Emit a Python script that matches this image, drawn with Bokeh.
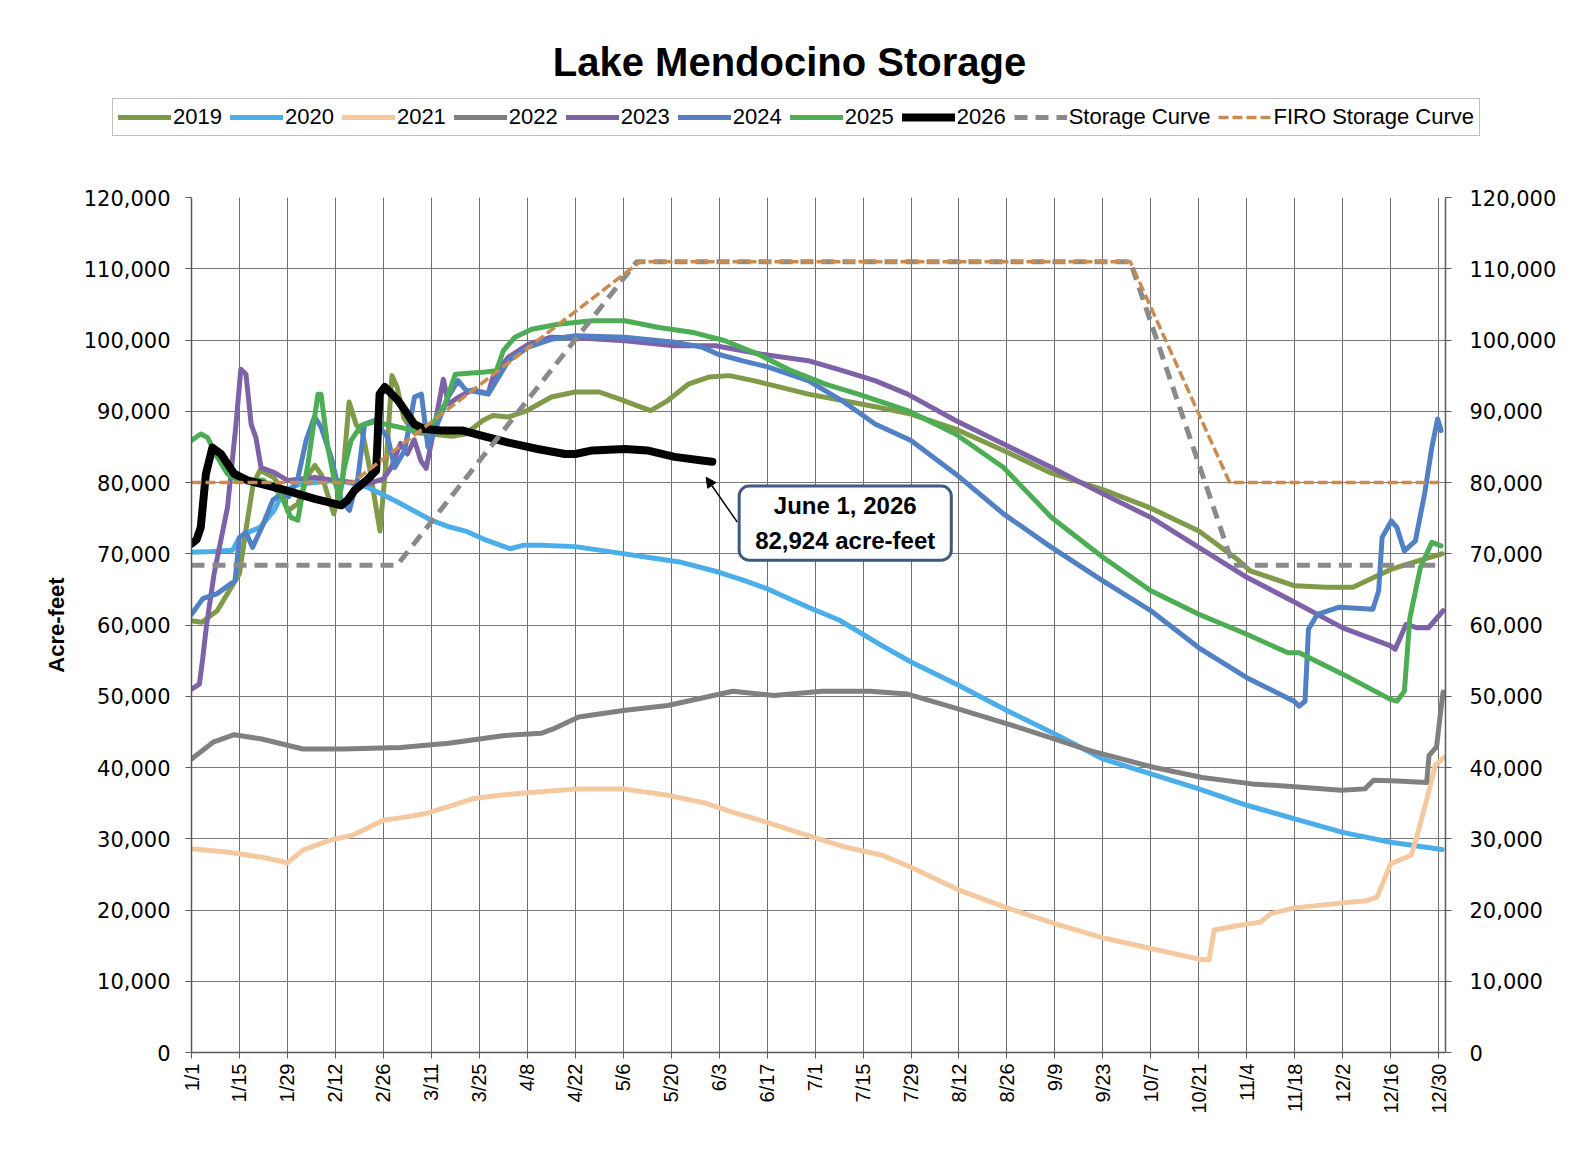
import math
from bokeh.plotting import figure
from bokeh.models import (Legend, LegendItem, Label, Arrow, NormalHead, LinearAxis,
                          FixedTicker, NumeralTickFormatter, Range1d)
from bokeh.core.properties import value
from bokeh.embed import file_html
from bokeh.resources import INLINE

# ---------------- data (x = day of year, 1/1 = 0, leap-year calendar) ----------------
TICK_LABELS = ["1/1", "1/15", "1/29", "2/12", "2/26", "3/11", "3/25", "4/8", "4/22", "5/6",
               "5/20", "6/3", "6/17", "7/1", "7/15", "7/29", "8/12", "8/26", "9/9", "9/23",
               "10/7", "10/21", "11/4", "11/18", "12/2", "12/16", "12/30"]
TICK_DAYS = list(range(0, 365, 14))
Y_TICKS = list(range(0, 120001, 10000))

D2019 = [0, 3, 7.5, 12.5, 14, 16, 18, 20, 24, 26, 28, 31, 34, 36, 38, 41.5, 44, 46, 48, 50, 52, 55, 57, 58.5, 60,
         62, 65, 70, 76, 80, 85, 88, 92.5, 98, 105, 112, 119, 125, 130, 134, 139, 145, 151, 157, 164, 170, 180,
         190, 200, 210, 223, 237, 251, 266, 280, 294, 305, 309, 322, 331, 339, 343, 350, 358, 365]
V2019 = [60600, 60400, 62000, 66000, 67200, 73700, 79800, 81700, 80700, 79300, 76000, 77000, 81000, 82400, 81000,
         75600, 80000, 91300, 88200, 86800, 82000, 73200, 84000, 95000, 93400, 89000, 87000, 86800, 86500, 86800,
         88700, 89400, 89200, 90100, 92000, 92700, 92700, 91700, 90800, 90100, 91500, 93800, 94800, 95000, 94300,
         93600, 92400, 91500, 90600, 89600, 87500, 84500, 81300, 79000, 76400, 73200, 69300, 67600, 65500, 65300,
         65300, 66200, 67800, 69000, 70000]

D2020 = [0, 6, 12, 14, 16.5, 20, 24, 26, 29, 32, 36, 42, 46, 51, 55, 60, 65, 70, 75, 80.5, 86, 93, 97, 102, 112,
         122, 133, 143, 154, 161, 168, 180, 189, 201.5, 210, 224, 238, 252, 266, 280, 294, 308, 322, 336, 350, 365]
V2020 = [70200, 70300, 70500, 72300, 73000, 73700, 76000, 77900, 79300, 79800, 80000, 80300, 80000, 79400, 78500,
         77300, 76000, 74700, 73800, 73100, 71900, 70700, 71200, 71200, 71000, 70300, 69500, 68800, 67400, 66300,
         65100, 62500, 60700, 57100, 54800, 51500, 48000, 44700, 41200, 39100, 37000, 34700, 32800, 30900, 29500,
         28500]

D2021 = [0, 11, 20.5, 26.5, 28, 32.5, 40.5, 47, 56, 62, 68, 75, 82, 90, 99, 113, 126, 139, 150, 158, 168, 177, 191,
         201.5, 210, 224, 238, 252, 266, 280, 294, 297, 298.5, 305, 312, 315, 322, 336, 343, 346, 350, 356, 357.6,
         360.7, 363, 365.5]
V2021 = [28600, 28100, 27400, 26800, 26600, 28400, 29800, 30500, 32600, 33000, 33500, 34500, 35600, 36100, 36500,
         37000, 37000, 36100, 35000, 33700, 32300, 30900, 28800, 27700, 26000, 22800, 20300, 18100, 16100, 14600,
         13100, 13000, 17200, 17800, 18300, 19500, 20300, 21000, 21300, 21800, 26500, 27700, 30200, 35800, 40300,
         41400]

D2022 = [0, 6.5, 12.5, 20.5, 32.5, 44.5, 61, 75, 91.5, 102, 106, 113, 126, 139, 158, 170, 184, 198, 209, 224, 243,
         262, 281, 295, 309.5, 322, 335.5, 342.5, 345, 352, 360.5, 361.2, 363.4, 364.4, 365.3]
V2022 = [41200, 43600, 44600, 44000, 42600, 42600, 42800, 43400, 44500, 44800, 45500, 47100, 48000, 48700, 50700,
         50100, 50700, 50700, 50300, 48200, 45400, 42400, 40000, 38600, 37700, 37300, 36800, 37000, 38200, 38100,
         37900, 41700, 42900, 47100, 50600]

D2023 = [0, 2.3, 3.2, 4.4, 6.6, 10.5, 13, 14.4, 15.9, 17.4, 18.8, 20.3, 24.2, 28, 36, 41.7, 51.5, 56, 58.3, 61, 63,
         65, 67, 68.5, 71, 73.5, 75, 78, 82, 86.6, 88, 92.5, 98.3, 105, 112, 126.5, 141, 153, 166.4, 180, 190,
         199.5, 209, 223, 237, 251, 266, 280, 294, 308, 322, 336, 349.8, 351.3, 354.5, 357.8, 361, 365.3]
V2023 = [51000, 51700, 55000, 60000, 67200, 76500, 88200, 95900, 95200, 88200, 86300, 82100, 81400, 80300, 80700,
         80300, 79800, 80500, 82100, 85500, 84000, 86000, 83000, 82000, 88000, 94500, 91000, 92000, 93000, 92500,
         94800, 97600, 99400, 100400, 100300, 99900, 99200, 99200, 98000, 97100, 95700, 94300, 92400, 88700, 85400,
         82100, 78400, 75100, 70900, 66700, 63200, 59600, 57100, 56600, 60100, 59600, 59600, 62000]

D2024 = [0, 3.3, 7.5, 12.7, 14, 15.9, 17.8, 20.8, 23.7, 26.1, 28.4, 31, 33.5, 35.9, 37.8, 40.8, 43.7, 46.1, 48.6,
         50.5, 53.4, 57.3, 59.3, 62.2, 65.1, 67.1, 69, 71, 74.9, 77.8, 80, 86.6, 92.5, 98.3, 105, 112, 126.5, 141,
         149, 153.7, 160.6, 168.4, 180, 189.8, 199.5, 210, 223, 237, 251, 266, 280, 294, 308, 321.8, 323.3, 325, 326,
         328.6, 335, 344.8, 346.5, 347.5, 350.2, 351.8, 354, 357.2, 359.9, 362, 363.7, 364.7]
V2024 = [61500, 63700, 64400, 66200, 72300, 73000, 70900, 74000, 77500, 78400, 78000, 80500, 86000, 89200, 87800,
         83500, 77500, 76100, 80700, 88200, 88700, 86300, 82100, 84500, 92000, 92400, 85000, 87300, 92000, 94300,
         93000, 92400, 97100, 99000, 100100, 100600, 100400, 99700, 99000, 98000, 97100, 96200, 94300, 91500, 88200,
         85900, 81200, 75600, 70900, 66200, 62000, 56800, 52600, 49300, 48600, 49300, 59400, 61500, 62500, 62200,
         64800, 72300, 74600, 73700, 70400, 71800, 78400, 84900, 88900, 87300]

D2025 = [0, 2.7, 4.7, 7.6, 10.5, 13.5, 21, 26, 29, 31, 34, 36.9, 37.8, 39.8, 41.7, 43.2, 44.6, 46.6, 49.5, 53.4, 60.3,
         65, 69, 74, 77, 85.7, 89, 91, 94.4, 99.3, 107, 117, 126.5, 136, 146, 155.7, 165.4, 175, 185, 194.6, 209, 223,
         237, 251, 266, 280, 294, 308, 320, 323.3, 336, 349.8, 351.8, 354, 355.6, 358.7, 362, 364.7]
V2025 = [85900, 86800, 86300, 83500, 81200, 80300, 80300, 78400, 75100, 74700, 82600, 92400, 92400, 84900, 80300,
         77900, 82100, 85900, 88000, 88500, 87800, 87300, 87100, 91000, 95200, 95500, 95700, 98500, 100400, 101500,
         102200, 102700, 102700, 101800, 101100, 99900, 98000, 95700, 93800, 92400, 90100, 86800, 82100, 75100,
         69500, 64800, 61500, 58700, 56100, 56100, 53100, 49600, 49300, 50700, 61000, 68100, 71600, 71100]

D2026 = [0, 1.5, 2.7, 4.2, 6.1, 8.6, 12.5, 16.4, 26, 36, 43.7, 45.5, 47.6, 51.5, 53.9, 54.9, 56.4, 60.3, 65, 68, 73,
         79, 83, 92.5, 101, 109, 112, 117, 126.5, 133, 141, 149, 152]
V2026 = [71400, 72000, 73700, 81200, 84900, 84000, 81200, 80300, 79100, 77700, 76800, 77500, 78900, 80500, 81700,
         92400, 93400, 91500, 88200, 87500, 87300, 87300, 86800, 85600, 84700, 84000, 84000, 84500, 84700, 84500,
         83600, 83100, 82924]

D_STORAGE = [0, 60, 130, 274, 304, 363]
V_STORAGE = [68400, 68400, 111000, 111000, 68400, 68400]
D_FIRO = [0, 47, 131, 274, 303, 364]
V_FIRO = [80000, 80000, 111000, 111000, 80000, 80000]

TITLE = "Lake Mendocino Storage"

STYLE_YEAR = dict(line_width=5, line_join="round", line_cap="round")
SERIES = [("2019", D2019, V2019, dict(line_color="#7F9A48", **STYLE_YEAR)),
          ("2020", D2020, V2020, dict(line_color="#4BAEE8", **STYLE_YEAR)),
          ("2021", D2021, V2021, dict(line_color="#F5C9A0", **STYLE_YEAR)),
          ("2022", D2022, V2022, dict(line_color="#808080", **STYLE_YEAR)),
          ("2023", D2023, V2023, dict(line_color="#7E62A8", **STYLE_YEAR)),
          ("2024", D2024, V2024, dict(line_color="#5180C4", **STYLE_YEAR)),
          ("2025", D2025, V2025, dict(line_color="#4CAD55", **STYLE_YEAR)),
          ("2026", D2026, V2026, dict(line_color="black", line_width=8, line_join="round", line_cap="round")),
          ("Storage Curve", D_STORAGE, V_STORAGE, dict(line_color="#8A8A8A", line_width=5, line_dash="13 8")),
          ("FIRO Storage Curve", D_FIRO, V_FIRO, dict(line_color="#C98B50", line_width=3.5, line_dash="10 4"))]

TOTAL_W, TOTAL_H = 1592, 1174
HEADER_H = 160

# ---------------- header figure: title + legend (pixel coordinates, y downwards) ----------------
h = figure(width=TOTAL_W, height=HEADER_H, x_range=Range1d(0, TOTAL_W), y_range=Range1d(HEADER_H, 0),
           output_backend="svg", toolbar_location=None, min_border=0,
           x_axis_type=None, y_axis_type=None)
h.grid.visible = False
h.outline_line_color = None
h.background_fill_color = "white"
h.border_fill_color = "white"
h.text(x=[789], y=[61], text=[TITLE], text_font=value("Liberation Sans"), text_font_size="40px",
       text_font_style="bold", text_align="center", text_baseline="alphabetic", text_color="black")

items = []
for name, d, v, st in SERIES:
    # the series data lie far outside this header's pixel ranges, so only the legend swatch shows
    r = h.line(d, v, **st)
    items.append(LegendItem(label=name, renderers=[r]))

legend = Legend(items=items, orientation="horizontal", location=(112, HEADER_H - 136),
                label_text_font="Liberation Sans", label_text_font_size="22px",
                label_text_color="black", glyph_width=53, glyph_height=20,
                label_standoff=2, spacing=8, padding=5, margin=0,
                border_line_color="#7f7f7f", border_line_width=1.5,
                background_fill_color="white", background_fill_alpha=1.0)
h.add_layout(legend)

# ---------------- main chart ----------------
p = figure(width=TOTAL_W, height=TOTAL_H - HEADER_H, x_range=(0, 366), y_range=(0, 120000),
           output_backend="svg", toolbar_location=None,
           min_border_left=191, min_border_right=147, min_border_top=197 - HEADER_H, min_border_bottom=122)
p.background_fill_color = "white"
p.border_fill_color = "white"
p.outline_line_color = None

AX_COLOR = "#5a5a5a"
p.xaxis.ticker = FixedTicker(ticks=TICK_DAYS)
p.xaxis.major_label_overrides = {d: lab for d, lab in zip(TICK_DAYS, TICK_LABELS)}
p.xaxis.major_label_orientation = math.pi / 2
p.xaxis.major_label_text_font = "Liberation Sans"
p.xaxis.major_label_text_font_size = "20px"
p.xaxis.major_label_text_color = "black"
p.xaxis.major_label_standoff = 5
p.xaxis.major_tick_out = 6
p.xaxis.major_tick_in = 0
p.xaxis.minor_tick_line_color = None
p.xaxis.axis_line_color = AX_COLOR
p.xaxis.axis_line_width = 1.5
p.xaxis.major_tick_line_color = AX_COLOR

p.yaxis.ticker = FixedTicker(ticks=Y_TICKS)
p.yaxis.formatter = NumeralTickFormatter(format="0,0")
p.yaxis.axis_label = "Acre-feet"
p.yaxis.axis_label_text_font = "Liberation Sans"
p.yaxis.axis_label_text_font_size = "22px"
p.yaxis.axis_label_text_font_style = "bold"
p.yaxis.axis_label_text_color = "black"
p.yaxis.axis_label_standoff = 12

right = LinearAxis(ticker=FixedTicker(ticks=Y_TICKS), formatter=NumeralTickFormatter(format="0,0"))
p.add_layout(right, "right")

for ax, standoff in ((p.yaxis[0], 15), (right, 18)):
    ax.major_label_text_font = "DejaVu Sans"
    ax.major_label_text_font_size = "21px"
    ax.major_label_text_color = "black"
    ax.major_label_standoff = standoff
    ax.major_tick_out = 6
    ax.major_tick_in = 0
    ax.minor_tick_line_color = None
    ax.axis_line_color = AX_COLOR
    ax.axis_line_width = 1.5
    ax.major_tick_line_color = AX_COLOR

p.xgrid.ticker = FixedTicker(ticks=TICK_DAYS)
p.xgrid.grid_line_color = "#6e6e6e"
p.xgrid.grid_line_width = 1
p.ygrid.ticker = FixedTicker(ticks=Y_TICKS)
p.ygrid.grid_line_color = "#7a7a7a"
p.ygrid.grid_line_width = 1

for name, d, v, st in SERIES:
    p.line(d, v, **st)

# ---------------- callout ----------------
arrow = Arrow(end=NormalHead(size=10, fill_color="black", line_color="black"),
              x_start=159.3, y_start=74430, x_end=150.2, y_end=80740,
              line_color="black", line_width=1.5)
p.add_layout(arrow)

callout = Label(x=190.8, y=74300, text="June 1, 2026\n82,924 acre-feet",
                text_font="Liberation Sans", text_font_size="24px", text_font_style="bold",
                text_align="center", text_baseline="middle", text_line_height=1.3,
                text_color="black", background_fill_color="white",
                border_line_color="#3E5A7E", border_line_width=3,
                padding=dict(left=16, right=16, top=6, bottom=6), border_radius=10)
p.add_layout(callout)

open("out.html", "w").write(file_html([h, p], INLINE))
